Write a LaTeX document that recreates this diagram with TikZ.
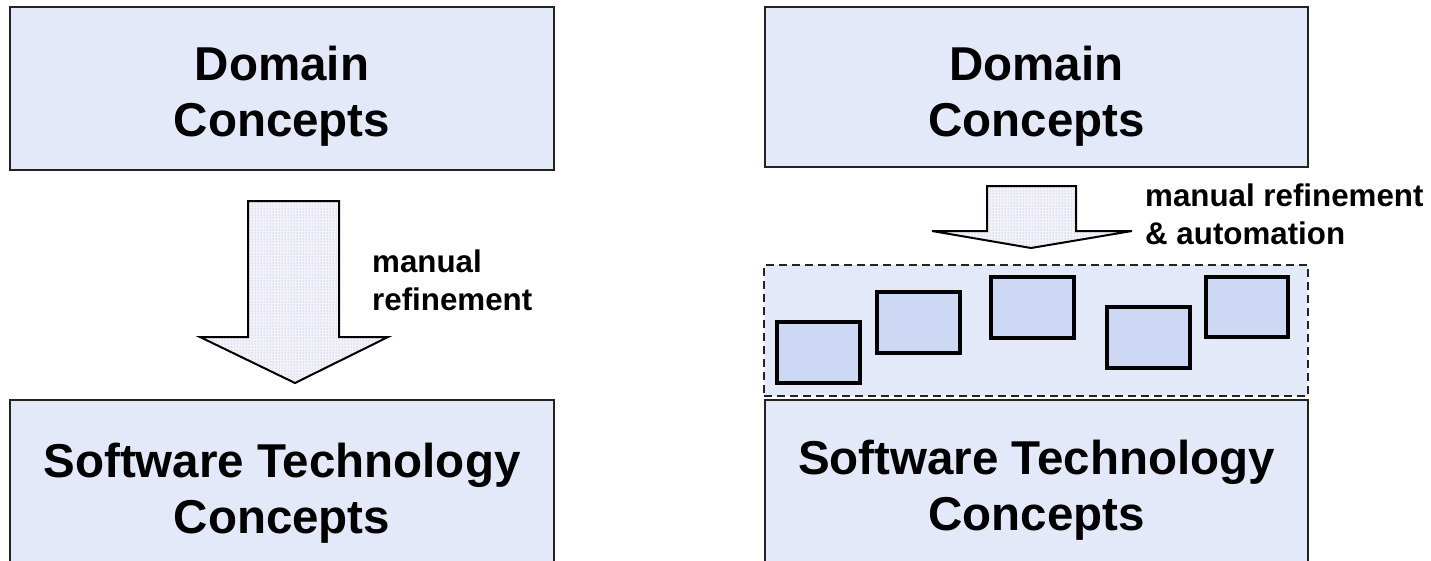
\documentclass[tikz,border=0pt]{standalone}
\usepackage{fontspec}
\setmainfont{Liberation Sans}
\usetikzlibrary{patterns}
\definecolor{boxfill}{RGB}{227,233,248}
\definecolor{smallfill}{RGB}{204,216,244}
\definecolor{arrowfill}{RGB}{242,242,250}
\definecolor{dotcol}{RGB}{165,165,210}
\definecolor{boxline}{RGB}{35,35,35}
\begin{document}
\begin{tikzpicture}[x=1pt,y=-1pt,
  bigbox/.style={draw=boxline, line width=2pt, fill=boxfill, inner sep=0pt},
  groupbox/.style={draw=boxline, line width=2pt, dash pattern=on 8pt off 5pt, fill=boxfill, inner sep=0pt},
  smallbox/.style={draw=black, line width=3.3pt, fill=smallfill, inner sep=0pt},
  bigtext/.style={font=\bfseries\fontsize{47.5}{57}\selectfont, inner sep=0pt, anchor=base},
  labeltext/.style={font=\bfseries\fontsize{31.3}{38}\selectfont, inner sep=0pt, anchor=base west},
  blockarrow/.style={draw=black, line width=2pt, line join=miter, preaction={fill=arrowfill}, pattern=dots, pattern color=dotcol}]
\clip (0,0) rectangle (1431,560);
\fill[white] (0,0) rectangle (1431,560);

% ---- left column ----
\node[bigbox, minimum width=544pt, minimum height=163pt] (dl) at (282,88.5) {};
\node[bigtext] (dlt1) at (282,80) {Domain};
\node[bigtext] (dlt2) at (282,136) {Concepts};

\node[bigbox, minimum width=544pt, minimum height=180pt] (sl) at (282,490) {};
\node[bigtext] (slt1) at (282,477) {Software Technology};
\node[bigtext] (slt2) at (282,533) {Concepts};

\draw[blockarrow] (248,201) -- (339,201) -- (339,337) -- (388,337) -- (295,383)
  -- (200,337) -- (248,337) -- cycle;
\node[labeltext] (ll1) at (372,272) {manual};
\node[labeltext] (ll2) at (372,310) {refinement};

% ---- right column ----
\node[bigbox, minimum width=543pt, minimum height=160pt] (dr) at (1036.5,87) {};
\node[bigtext] (drt1) at (1036.5,80) {Domain};
\node[bigtext] (drt2) at (1036.5,136) {Concepts};

\node[groupbox, minimum width=544pt, minimum height=131pt] (grp) at (1036,330.5) {};
\node[smallbox, minimum width=83pt, minimum height=61pt] (b1) at (818.5,352.5) {};
\node[smallbox, minimum width=83pt, minimum height=61pt] (b2) at (918.5,322.5) {};
\node[smallbox, minimum width=83pt, minimum height=61pt] (b3) at (1032.5,307.5) {};
\node[smallbox, minimum width=83pt, minimum height=61pt] (b4) at (1148.5,337.5) {};
\node[smallbox, minimum width=82pt, minimum height=60pt] (b5) at (1247,307) {};

\node[bigbox, minimum width=543pt, minimum height=180pt] (sr) at (1036.5,490) {};
\node[bigtext] (srt1) at (1036.5,474) {Software Technology};
\node[bigtext] (srt2) at (1036.5,530) {Concepts};

\draw[blockarrow] (987,186) -- (1076,186) -- (1076,231) -- (1132,231) -- (1031,248)
  -- (932,231) -- (987,231) -- cycle;
\node[labeltext] (rl1) at (1145,206) {manual refinement};
\node[labeltext] (rl2) at (1145,244) {\& automation};
\end{tikzpicture}
\end{document}
